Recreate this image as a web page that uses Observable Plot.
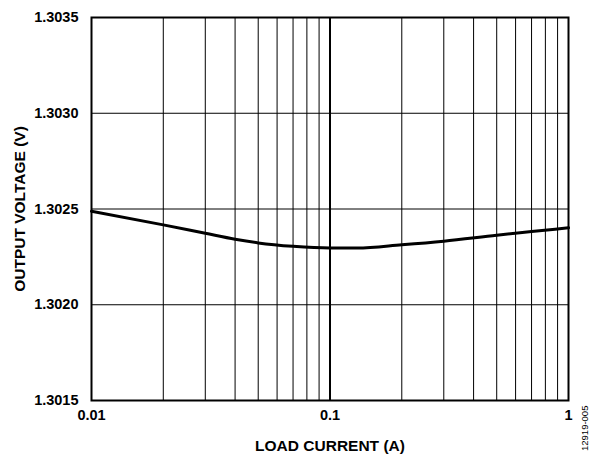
<!DOCTYPE html>
<html><head><meta charset="utf-8">
<script src="https://cdn.jsdelivr.net/npm/d3@7"></script>
<script src="https://cdn.jsdelivr.net/npm/@observablehq/plot@0.6"></script>
<style>
body{margin:0;background:#fff;font-family:"Liberation Sans",Arial,sans-serif;}
#wrap{position:relative;width:593px;height:455px;}
#note{position:absolute;left:579px;top:451px;transform:rotate(-90deg);transform-origin:0 0;font-size:9.5px;line-height:11px;color:#000;white-space:nowrap;}
g[aria-label="x-axis label"] text, g[aria-label="y-axis label"] text{font-size:15.5px;}
</style></head>
<body><div id="wrap"><div id="note">12919-005</div></div>
<script>
const current = [0.01, 0.02, 0.03, 0.04, 0.05, 0.07, 0.1, 0.13, 0.2, 0.3, 0.5, 0.7, 1];
const voltage = [1.302488, 1.302417, 1.302373, 1.302342, 1.302323, 1.302305, 1.302296, 1.302296, 1.302313, 1.302332, 1.302363, 1.302382, 1.302402];
const xTicks = [0.01, 0.1, 1];
const xTickLabels = ["0.01", "0.1", "1"];
const xGrid = [0.02,0.03,0.04,0.05,0.06,0.07,0.08,0.09,0.2,0.3,0.4,0.5,0.6,0.7,0.8,0.9];
const yTicks = [1.3015, 1.3020, 1.3025, 1.3030, 1.3035];

const data = current.map((c,i)=>({c, v: voltage[i]}));

const chart = Plot.plot({
  width: 593, height: 455,
  marginLeft: 91, marginRight: 25, marginTop: 17, marginBottom: 55,
  style: {fontFamily: '"Liberation Sans", Arial, sans-serif', fontSize: "14.5px", fontWeight: "bold", color: "#000", background: "#fff"},
  x: {type: "log", domain: [0.01, 1], ticks: xTicks, tickFormat: (d,i)=>xTickLabels[xTicks.indexOf(d)], tickSize: 0, tickPadding: 9, label: "LOAD CURRENT (A)", labelAnchor: "center", labelArrow: "none", labelOffset: 50},
  y: {domain: [1.3015, 1.3035], ticks: yTicks, tickFormat: d=>d.toFixed(4), tickSize: 0, tickPadding: 13, label: "OUTPUT VOLTAGE (V)", labelAnchor: "center", labelArrow: "none", labelOffset: 78},
  marks: [
    Plot.ruleX(xGrid, {stroke: "#000", strokeWidth: 1}),
    Plot.ruleX([0.1], {stroke: "#000", strokeWidth: 2}),
    Plot.ruleY(yTicks, {stroke: "#000", strokeWidth: 1}),
    Plot.line(data, {x: "c", y: "v", curve: "monotone-x", stroke: "#000", strokeWidth: 3}),
    Plot.frame({stroke: "#000", strokeWidth: 2})
  ]
});
document.getElementById("wrap").prepend(chart);
</script></body></html>
